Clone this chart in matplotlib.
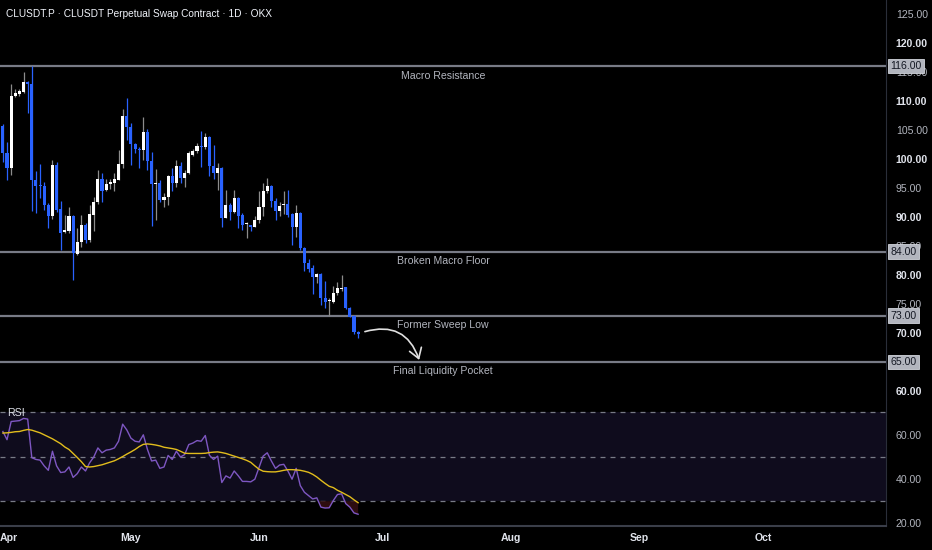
import matplotlib
matplotlib.use("Agg")
import matplotlib.pyplot as plt
import matplotlib.dates as mdates
import matplotlib.transforms as mtransforms
from matplotlib.patches import FancyArrowPatch
import numpy as np
import pandas as pd

plt.rcParams['font.family'] = ['Liberation Sans', 'DejaVu Sans']

# daily candles, CLUSDT.P (OKX)
dates = pd.date_range('2025-03-31', periods=87, freq='D')
opens = [105.7, 101.1, 98.5, 110.9, 111.2, 111.6, 113.3, 112.9, 96.3, 95.5,
         95.3, 92.1, 90.2, 99.0, 91.3, 87.4, 87.5, 90.1, 83.7, 85.7,
         88.6, 86.0, 90.3, 92.5, 96.6, 94.7, 95.6, 95.9, 96.4, 99.1,
         107.4, 105.5, 102.5, 101.8, 101.6, 104.7, 99.7, 95.7, 95.9, 92.9,
         93.4, 97.1, 95.8, 98.7, 96.7, 97.5, 100.7, 101.3, 102.2, 102.0,
         103.7, 98.7, 97.6, 98.4, 89.9, 92.1, 90.9, 93.2, 90.3, 88.8,
         88.6, 88.3, 89.4, 91.8, 94.5, 95.3, 92.8, 91.1, 92.0, 92.2,
         90.5, 88.2, 90.7, 84.6, 82.1, 81.2, 79.6, 80.2, 76.0, 75.5,
         75.4, 76.9, 77.6, 77.9, 74.3, 73.0, 70.2]
highs = [106.0, 103.0, 112.9, 112.0, 112.0, 115.0, 113.5, 116.0, 98.0, 99.1,
         96.1, 92.4, 99.8, 99.5, 92.8, 90.3, 91.7, 90.3, 88.1, 90.3,
         88.9, 92.1, 93.5, 98.1, 97.5, 96.6, 96.6, 97.5, 101.6, 108.6,
         110.5, 106.2, 102.7, 102.1, 107.3, 105.1, 101.2, 98.3, 96.3, 94.1,
         97.2, 98.4, 99.9, 99.5, 98.1, 101.3, 101.7, 102.7, 104.8, 104.5,
         104.0, 102.4, 99.3, 98.6, 94.7, 92.4, 94.7, 93.4, 90.6, 89.2,
         88.7, 90.1, 94.5, 95.9, 96.8, 95.5, 93.2, 92.5, 94.4, 94.7,
         90.7, 92.1, 90.9, 84.8, 82.7, 81.7, 80.3, 80.3, 79.0, 76.0,
         78.1, 78.8, 80.0, 78.0, 74.4, 73.1, 70.3]
lows = [99.5, 96.3, 97.2, 110.6, 110.9, 111.4, 108.0, 91.1, 90.7, 93.3,
        91.2, 88.1, 89.7, 90.9, 84.3, 87.2, 87.3, 79.1, 83.4, 84.9,
        85.5, 85.6, 87.6, 92.2, 92.6, 94.5, 94.8, 94.5, 96.3, 98.4,
        103.3, 99.0, 101.0, 98.4, 99.8, 98.1, 88.4, 89.5, 92.6, 91.8,
        92.1, 94.4, 95.2, 95.8, 95.1, 97.4, 100.5, 101.0, 98.6, 101.8,
        97.1, 96.5, 94.7, 88.3, 89.8, 89.5, 90.7, 88.1, 87.8, 86.4,
        87.5, 88.2, 89.0, 90.2, 94.1, 91.8, 89.4, 90.2, 90.5, 90.0,
        85.2, 86.6, 84.3, 80.7, 80.6, 76.8, 78.6, 74.8, 74.3, 72.9,
        75.1, 76.6, 77.3, 74.1, 72.7, 69.9, 69.2]
closes = [101.1, 98.5, 110.9, 111.4, 111.7, 113.2, 112.9, 96.3, 95.3, 95.3,
          92.0, 90.2, 99.0, 91.2, 87.3, 87.8, 90.1, 83.8, 85.7, 88.6,
          86.0, 90.5, 92.6, 96.5, 94.5, 95.7, 96.0, 96.5, 99.1, 107.4,
          105.5, 102.5, 101.7, 101.6, 104.7, 99.7, 95.6, 95.9, 92.9, 93.5,
          97.1, 95.9, 98.7, 96.7, 97.6, 101.0, 101.4, 102.2, 102.0, 103.7,
          98.7, 97.6, 98.4, 89.9, 92.1, 90.9, 93.2, 90.2, 88.6, 89.0,
          88.2, 89.5, 91.8, 94.5, 95.3, 92.8, 91.1, 91.9, 92.2, 90.3,
          88.2, 90.7, 84.6, 82.1, 81.1, 79.6, 80.2, 76.0, 75.4, 75.7,
          76.9, 77.7, 77.7, 74.3, 72.8, 70.1, 69.9]

# RSI(14) and its moving average
rsi = [61.4, 57.7, 65.9, 66.1, 66.3, 67.3, 67.0, 49.6, 48.8, 48.5,
       45.9, 43.9, 52.5, 45.9, 42.9, 43.2, 45.4, 40.7, 42.4, 45.4,
       43.6, 47.3, 49.9, 54.0, 51.8, 53.0, 53.3, 54.0, 57.0, 64.7,
       62.1, 58.4, 57.0, 56.7, 59.9, 53.3, 48.1, 48.5, 44.8, 45.4,
       50.6, 48.8, 52.5, 49.9, 51.0, 55.5, 56.2, 57.3, 57.0, 59.6,
       50.7, 48.8, 50.3, 38.4, 41.4, 40.4, 43.6, 41.4, 38.9, 38.9,
       38.7, 39.9, 45.1, 50.3, 51.8, 48.1, 44.8, 46.3, 46.6, 43.6,
       39.9, 44.8, 37.0, 34.0, 32.5, 31.0, 31.5, 27.3, 26.9, 27.0,
       30.3, 33.0, 33.3, 28.9, 27.3, 24.7, 24.1]
rsi_ma = [60.7, 60.8, 61.0, 61.3, 61.4, 61.9, 62.3, 62.0, 61.4, 60.8,
          59.9, 59.0, 58.1, 57.0, 55.9, 54.4, 53.3, 51.5, 49.7, 47.8,
          45.6, 45.4, 45.6, 46.0, 46.4, 47.0, 47.6, 48.2, 49.1, 50.1,
          51.2, 52.2, 53.3, 54.6, 55.6, 55.8, 55.6, 55.3, 54.9, 54.3,
          54.0, 53.7, 53.3, 52.5, 51.6, 51.5, 51.5, 51.5, 51.5, 51.6,
          51.9, 52.1, 52.2, 51.9, 51.5, 50.9, 50.3, 49.7, 49.1, 48.4,
          47.5, 45.9, 44.4, 43.5, 43.3, 43.2, 43.2, 43.5, 43.9, 44.2,
          44.2, 44.1, 43.9, 43.5, 43.0, 42.1, 40.9, 39.4, 38.0, 36.7,
          36.1, 34.9, 34.0, 33.0, 32.0, 30.6, 29.3]

levels = [116.0, 84.0, 73.0, 65.0]
level_names = ['Macro Resistance', 'Broken Macro Floor', 'Former Sweep Low',
               'Final Liquidity Pocket']
price_ticks = [60, 70, 75, 80, 85, 90, 95, 100, 105, 110, 115, 120, 125]
rsi_ticks = [20, 40, 60]
month_ticks = pd.date_range('2025-04-01', periods=7, freq='MS')

BG = '#000000'
UP = '#ffffff'
DOWN = '#2962ff'
GRID = '#2a2e39'
FS = 7.6

W, H = 932, 550
fig = plt.figure(figsize=(W / 100, H / 100), dpi=100, facecolor=BG)
pane_right = 886 / W
ax = fig.add_axes([0, 1 - 400 / H, pane_right, 400 / H], facecolor=BG)
ax2 = fig.add_axes([0, 24 / H, pane_right, (526 - 400) / H], facecolor=BG, sharex=ax)

x = mdates.date2num(dates)
o = np.array(opens); h = np.array(highs); l = np.array(lows); c = np.array(closes)
up = c >= o
wick_col = np.where(up, '#8c8c8c', DOWN)
body_col = np.where(up, UP, DOWN)
ax.vlines(x, l, h, colors=wick_col, lw=0.9, zorder=3)
bot = np.minimum(o, c)
hgt = np.maximum(np.abs(c - o), 0.2)
ax.bar(x, hgt, bottom=bot, width=0.74, color=body_col, lw=0, zorder=4)

x0 = mdates.date2num(pd.Timestamp('2025-04-01'))
ax.set_xlim(x0 - 1.7, x0 + 212.8)
ax.set_ylim(58.45, 127.4)

for lv, name in zip(levels, level_names):
    ax.axhline(lv, color='#787b86', lw=1.6, zorder=2)
    ax.annotate(name, xy=(0.5, lv), xycoords=('axes fraction', 'data'),
                xytext=(0, -6.8), textcoords='offset points', ha='center',
                va='center', color='#b2b5be', fontsize=FS)
    ax.annotate('%.2f' % lv, xy=(1.0, lv), xycoords=('axes fraction', 'data'),
                xytext=(3, 0), textcoords='offset points', ha='left', va='center',
                color='#131722', fontsize=FS, annotation_clip=False, zorder=10,
                bbox=dict(boxstyle='square,pad=0.22', fc='#b2b5be', ec='#d1d4dc', lw=0.6))

# projected path arrow
arr = FancyArrowPatch((mdates.date2num(pd.Timestamp('2025-06-26')), 70.1),
                      (mdates.date2num(pd.Timestamp('2025-07-10')), 64.9),
                      connectionstyle='arc3,rad=-0.5',
                      arrowstyle='->,head_length=7,head_width=4.5',
                      color='#e0e0e0', lw=1.2, zorder=6)
ax.add_patch(arr)

ax.yaxis.tick_right()
ax.set_yticks(price_ticks)
ax.set_yticklabels(['%.2f' % t for t in price_ticks])
for t, lab in zip(price_ticks, ax.get_yticklabels()):
    if t % 10 == 0:
        lab.set_fontweight('bold')
        lab.set_color('#e0e3eb')
    else:
        lab.set_color('#b2b5be')
ax.tick_params(axis='y', length=0, pad=7, labelsize=FS)
ax.tick_params(axis='x', bottom=False, labelbottom=False)
for s in ['top', 'left', 'bottom']:
    ax.spines[s].set_visible(False)
ax.spines['right'].set_color(GRID)

ax.text(0.007, 0.965, 'CLUSDT.P \u00b7 CLUSDT Perpetual Swap Contract \u00b7 1D \u00b7 OKX',
        transform=ax.transAxes, color='#f0f3fa', fontsize=7.3, ha='left', va='center')

# RSI pane
ax2.axhspan(30, 70, color='#0f0c1d', lw=0, zorder=0)
for lv in [70, 50, 30]:
    ax2.axhline(lv, color='#787b86', lw=0.9, ls=(0, (4, 4)), zorder=1)
r = np.array(rsi)
ax2.fill_between(x, r, 30, where=r < 30, color='#2e0d10', lw=0, interpolate=True, zorder=1)
ax2.plot(x, rsi, color='#7e57c2', lw=1.0, zorder=3)
ax2.plot(x, rsi_ma, color='#e2bd1c', lw=1.0, zorder=4)
ax2.set_ylim(18.8, 75.6)
ax2.yaxis.tick_right()
ax2.set_yticks(rsi_ticks)
ax2.set_yticklabels(['%.2f' % t for t in rsi_ticks])
ax2.tick_params(axis='y', length=0, pad=7, labelsize=FS, labelcolor='#b2b5be')
ax2.text(0.008, (70 - 18.8) / (75.6 - 18.8) - 0.005, 'RSI', transform=ax2.transAxes,
         color='#e0e3eb', fontsize=FS, ha='left', va='center')

ax2.set_xticks(mdates.date2num(month_ticks))
ax2.xaxis.set_major_formatter(mdates.DateFormatter('%b'))
ax2.tick_params(axis='x', length=0, pad=5, labelsize=FS, labelcolor='#e0e3eb')
for lab in ax2.get_xticklabels():
    lab.set_fontweight('bold')
# keep the first month label inside the frame
first = ax2.get_xticklabels()[0]
first.set_horizontalalignment('left')
first.set_transform(first.get_transform() +
                    mtransforms.ScaledTranslation(-7 / 100, 0, fig.dpi_scale_trans))
for s in ['top', 'left']:
    ax2.spines[s].set_visible(False)
ax2.spines['right'].set_color(GRID)
ax2.spines['bottom'].set_color('#3a3e49')
ax2.spines['bottom'].set_linewidth(1.5)

fig.savefig('out.png', dpi=100, facecolor=BG)
